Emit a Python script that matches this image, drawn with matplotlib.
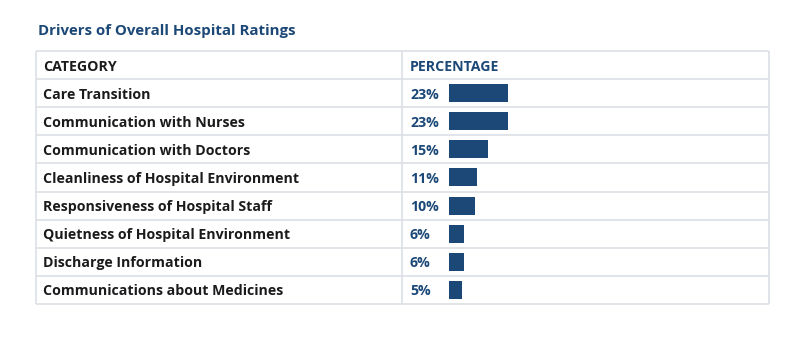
import matplotlib
matplotlib.use('Agg')
import matplotlib.pyplot as plt

# data
categories = ['Care Transition', 'Communication with Nurses', 'Communication with Doctors',
              'Cleanliness of Hospital Environment', 'Responsiveness of Hospital Staff',
              'Quietness of Hospital Environment', 'Discharge Information',
              'Communications about Medicines']
percentages = [23, 23, 15, 11, 10, 6, 6, 5]
headers = ['CATEGORY', 'PERCENTAGE']
title = 'Drivers of Overall Hospital Ratings'

BLUE = '#1c4877'
DARK = '#1b1b1b'
GRID = '#dcdfe4'
W, H = 800, 339

plt.rcParams['font.family'] = ['Open Sans', 'DejaVu Sans']

fig = plt.figure(figsize=(W / 100, H / 100), dpi=100)
ax = fig.add_axes([0, 0, 1, 1])
ax.set_xlim(0, W)
ax.set_ylim(H, 0)
ax.axis('off')

# table geometry (pixels)
left, mid, right = 36, 402, 769
top, row_h = 51, 28.1
n = len(categories) + 1
bottom = top + row_h * n
fs = 10.2

ax.text(38, 30, title, color=BLUE, fontsize=10.8, fontweight='bold', va='center_baseline')

for i in range(n + 1):
    y = top + row_h * i
    ax.plot([left, right], [y, y], color=GRID, lw=1.2, solid_capstyle='butt')
for x in (left, mid, right):
    ax.plot([x, x], [top, bottom], color=GRID, lw=1.2, solid_capstyle='butt')

ax.text(43, top + row_h / 2, headers[0], color=DARK, fontsize=fs, fontweight='bold', va='center_baseline')
ax.text(410, top + row_h / 2, headers[1], color=BLUE, fontsize=fs, fontweight='bold', va='center_baseline')

for i, (cat, p) in enumerate(zip(categories, percentages)):
    yc = top + row_h * (i + 1.5)
    ax.text(43, yc, cat, color=DARK, fontsize=fs, fontweight='bold', va='center_baseline')
    ax.text(410, yc, f'{p}%', color=BLUE, fontsize=fs, fontweight='bold', va='center_baseline')

# bars on their own axes, 1% = 2.57 px
bx0, bw = 449, 300
bax = fig.add_axes([bx0 / W, (H - bottom) / H, bw / W, (row_h * (n - 1)) / H])
bax.set_xlim(0, bw / 2.57)
bax.set_ylim(len(categories), 0)
bax.barh([i + 0.5 for i in range(len(categories))], percentages, height=18 / row_h,
         color=BLUE, left=0)
bax.axis('off')

fig.savefig('out.png', dpi=100)
